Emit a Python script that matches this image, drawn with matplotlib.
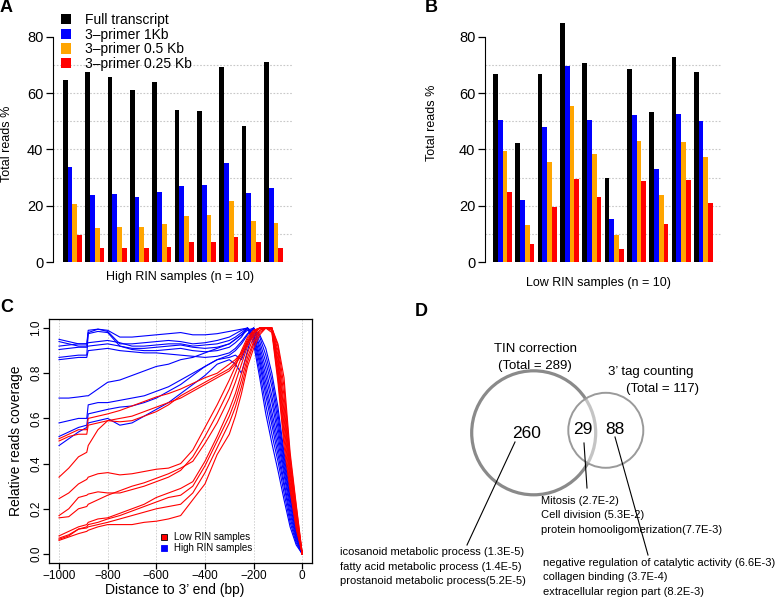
import matplotlib.pyplot as plt
from matplotlib.patches import Circle, Patch
from matplotlib.lines import Line2D

plt.rcParams['font.family'] = ['Liberation Sans', 'DejaVu Sans']

# ---- panels A / B : total reads % per sample
series_names = ['Full transcript', '3\u2013primer 1Kb', '3\u2013primer 0.5 Kb', '3\u2013primer 0.25 Kb']
series_colors = ['black', '#0000ff', '#ffa500', '#ff0000']

high_full = [64.5, 67.5, 65.8, 61.0, 63.9, 53.9, 53.7, 69.2, 48.3, 71.1]
high_1kb = [33.8, 23.8, 24.2, 23.1, 25.1, 27.0, 27.4, 35.2, 24.4, 26.2]
high_05kb = [20.7, 12.0, 12.4, 12.4, 13.6, 16.4, 16.7, 21.9, 14.8, 13.9]
high_025kb = [9.7, 4.9, 4.9, 5.2, 5.6, 7.3, 7.3, 8.8, 7.1, 5.2]

low_full = [66.8, 42.3, 66.8, 84.8, 70.5, 29.8, 68.5, 53.3, 72.7, 67.5]
low_1kb = [50.3, 22.1, 48.0, 69.5, 50.5, 15.4, 52.2, 33.1, 52.6, 50.0]
low_05kb = [39.6, 13.4, 35.6, 55.4, 38.4, 9.6, 43.0, 23.8, 42.7, 37.2]
low_025kb = [24.9, 6.4, 19.6, 29.4, 23.2, 4.8, 28.7, 13.6, 29.1, 20.9]

# ---- panel C : relative coverage vs distance to 3' end
dist = [-1000, -960, -920, -886, -880, -840, -800, -750, -700, -650, -600, -550, -500,
        -450, -400, -350, -300, -275, -250, -225, -200, -175, -150, -125, -100, -75, -50, -25, 0]

high_rin_cov = [
    [0.95, 0.94, 0.93, 0.93, 0.99, 0.995, 0.99, 0.96, 0.96, 0.965, 0.97, 0.975, 0.98, 0.97, 0.97,
     0.975, 0.985, 0.99, 0.995, 1.0, 0.93, 0.78, 0.62, 0.49, 0.37, 0.24, 0.12, 0.04, 0.0],
    [0.94, 0.93, 0.92, 0.92, 0.98, 0.995, 0.985, 0.93, 0.93, 0.935, 0.94, 0.945, 0.94, 0.93, 0.935,
     0.945, 0.96, 0.975, 0.99, 1.0, 0.95, 0.81, 0.66, 0.53, 0.41, 0.27, 0.14, 0.05, 0.0],
    [0.92, 0.925, 0.93, 0.93, 0.935, 0.94, 0.945, 0.935, 0.92, 0.92, 0.925, 0.93, 0.93, 0.92, 0.925,
     0.93, 0.945, 0.96, 0.98, 1.0, 0.96, 0.84, 0.70, 0.57, 0.44, 0.30, 0.16, 0.06, 0.0],
    [0.905, 0.91, 0.915, 0.915, 0.92, 0.925, 0.93, 0.92, 0.91, 0.91, 0.915, 0.92, 0.925, 0.915, 0.91,
     0.915, 0.93, 0.95, 0.97, 1.0, 0.97, 0.86, 0.73, 0.60, 0.47, 0.32, 0.18, 0.07, 0.0],
    [0.87, 0.875, 0.88, 0.88, 0.975, 0.985, 0.98, 0.92, 0.905, 0.9, 0.9, 0.905, 0.91, 0.9, 0.895,
     0.9, 0.915, 0.935, 0.96, 1.0, 0.98, 0.88, 0.76, 0.63, 0.50, 0.35, 0.20, 0.08, 0.0],
    [0.86, 0.865, 0.87, 0.87, 0.9, 0.905, 0.91, 0.9, 0.895, 0.89, 0.89, 0.885, 0.88, 0.875, 0.87,
     0.875, 0.89, 0.91, 0.94, 0.975, 1.0, 0.90, 0.79, 0.67, 0.53, 0.37, 0.22, 0.09, 0.0],
    [0.69, 0.69, 0.695, 0.70, 0.70, 0.73, 0.76, 0.77, 0.79, 0.81, 0.83, 0.84, 0.86, 0.87, 0.89,
     0.91, 0.93, 0.95, 0.97, 0.99, 1.0, 0.92, 0.82, 0.70, 0.56, 0.39, 0.24, 0.10, 0.0],
    [0.58, 0.59, 0.60, 0.60, 0.66, 0.67, 0.67, 0.68, 0.69, 0.70, 0.72, 0.74, 0.77, 0.80, 0.83,
     0.86, 0.88, 0.90, 0.93, 0.97, 1.0, 0.94, 0.85, 0.74, 0.59, 0.41, 0.25, 0.11, 0.0],
    [0.52, 0.54, 0.56, 0.57, 0.62, 0.63, 0.64, 0.65, 0.655, 0.67, 0.69, 0.72, 0.75, 0.79, 0.83,
     0.86, 0.87, 0.88, 0.86, 0.93, 1.0, 0.96, 0.88, 0.77, 0.62, 0.43, 0.27, 0.12, 0.0],
    [0.48, 0.51, 0.54, 0.56, 0.58, 0.59, 0.60, 0.57, 0.58, 0.61, 0.64, 0.67, 0.71, 0.75, 0.79,
     0.84, 0.86, 0.84, 0.80, 0.90, 1.0, 0.97, 0.91, 0.80, 0.65, 0.45, 0.29, 0.13, 0.0],
]

low_rin_cov = [
    [0.51, 0.53, 0.55, 0.55, 0.60, 0.61, 0.62, 0.635, 0.655, 0.675, 0.695, 0.71, 0.73, 0.755, 0.78,
     0.80, 0.84, 0.86, 0.89, 0.95, 0.99, 1.0, 1.0, 0.98, 0.76, 0.48, 0.28, 0.11, 0.0],
    [0.50, 0.52, 0.53, 0.53, 0.57, 0.58, 0.59, 0.585, 0.59, 0.61, 0.63, 0.66, 0.70, 0.73, 0.76,
     0.79, 0.82, 0.85, 0.89, 0.94, 0.98, 1.0, 1.0, 0.99, 0.78, 0.51, 0.30, 0.13, 0.0],
    [0.34, 0.38, 0.43, 0.45, 0.48, 0.55, 0.59, 0.60, 0.61, 0.63, 0.65, 0.67, 0.69, 0.72, 0.75,
     0.78, 0.81, 0.84, 0.88, 0.93, 0.98, 1.0, 1.0, 0.99, 0.80, 0.54, 0.32, 0.14, 0.0],
    [0.245, 0.27, 0.31, 0.33, 0.34, 0.355, 0.36, 0.35, 0.355, 0.365, 0.375, 0.38, 0.40, 0.46, 0.56,
     0.66, 0.77, 0.83, 0.90, 0.96, 0.99, 1.0, 1.0, 1.0, 0.82, 0.57, 0.34, 0.15, 0.0],
    [0.17, 0.20, 0.25, 0.26, 0.265, 0.275, 0.27, 0.27, 0.285, 0.30, 0.32, 0.34, 0.37, 0.43, 0.52,
     0.62, 0.73, 0.80, 0.87, 0.94, 0.98, 1.0, 1.0, 1.0, 0.84, 0.60, 0.36, 0.16, 0.0],
    [0.16, 0.165, 0.20, 0.21, 0.22, 0.24, 0.26, 0.28, 0.30, 0.315, 0.335, 0.355, 0.38, 0.41, 0.49,
     0.58, 0.69, 0.76, 0.84, 0.92, 0.97, 1.0, 1.0, 1.0, 0.86, 0.63, 0.37, 0.17, 0.0],
    [0.08, 0.10, 0.12, 0.13, 0.14, 0.155, 0.16, 0.18, 0.20, 0.22, 0.25, 0.27, 0.29, 0.32, 0.41,
     0.52, 0.64, 0.71, 0.80, 0.89, 0.96, 0.99, 1.0, 1.0, 0.88, 0.66, 0.39, 0.18, 0.0],
    [0.07, 0.085, 0.11, 0.12, 0.13, 0.14, 0.155, 0.17, 0.19, 0.21, 0.23, 0.25, 0.26, 0.30, 0.39,
     0.50, 0.61, 0.68, 0.77, 0.87, 0.94, 0.99, 1.0, 1.0, 0.90, 0.70, 0.41, 0.19, 0.0],
    [0.065, 0.08, 0.11, 0.115, 0.12, 0.13, 0.14, 0.155, 0.17, 0.185, 0.20, 0.21, 0.22, 0.27, 0.36,
     0.47, 0.58, 0.65, 0.74, 0.85, 0.93, 0.98, 1.0, 1.0, 0.92, 0.74, 0.43, 0.21, 0.0],
    [0.06, 0.075, 0.09, 0.10, 0.105, 0.12, 0.13, 0.13, 0.13, 0.14, 0.145, 0.155, 0.17, 0.24, 0.31,
     0.44, 0.53, 0.61, 0.71, 0.83, 0.91, 0.97, 1.0, 1.0, 0.93, 0.78, 0.45, 0.22, 0.0],
]

# ---- panel D : venn counts and GO terms
tin_total, tag_total = 289, 117
only_tin, shared, only_tag = 260, 29, 88
go_tin = ['icosanoid metabolic process (1.3E-5)', 'fatty acid metabolic process (1.4E-5)',
          'prostanoid metabolic process(5.2E-5)']
go_shared = ['Mitosis (2.7E-2)', 'Cell division (5.3E-2)', 'protein homooligomerization(7.7E-3)']
go_tag = ['negative regulation of catalytic activity (6.6E-3)', 'collagen binding (3.7E-4)',
          'extracellular region part (8.2E-3)']

W, H = 778, 603
fig = plt.figure(figsize=(W / 100, H / 100), dpi=100)


def px(x, y):
    # pixel position -> figure fraction
    return x / W, 1 - y / H


def bar_panel(rect, groups, xlim):
    ax = fig.add_axes(rect)
    pitch = 4.7
    for k, vals in enumerate(groups):
        xs = [i * pitch + k for i in range(len(vals))]
        ax.bar(xs, vals, width=1.0, align='edge', color=series_colors[k],
               label=series_names[k], zorder=2, linewidth=0)
    for g in range(0, 80, 10):
        ax.axhline(g, color='#c8c8c8', lw=0.8, ls=(0, (1.5, 1.5)), zorder=1)
    ax.set_xlim(*xlim)
    ax.set_ylim(0, 88)
    ax.set_yticks([0, 20, 40, 60, 80])
    for s in ['top', 'right', 'bottom']:
        ax.spines[s].set_visible(False)
    ax.spines['left'].set_bounds(0, 80)
    ax.set_xticks([])
    ax.tick_params(axis='y', length=5, width=0.9, labelsize=10.5, pad=2)
    return ax


axA = bar_panel([53 / W, 1 - 262.3 / H, 240 / W, 248.2 / H],
                [high_full, high_1kb, high_05kb, high_025kb], (-2.1, 48.4))
axB = bar_panel([485 / W, 1 - 262.3 / H, 237 / W, 248.2 / H],
                [low_full, low_1kb, low_05kb, low_025kb], (-1.7, 48.2))

handles = [Patch(facecolor=c, edgecolor='none') for c in series_colors]
axA.legend(handles, series_names, loc='upper left', bbox_to_anchor=px(61, 13),
           bbox_transform=fig.transFigure, frameon=False, fontsize=10,
           handlelength=0.75, handleheight=0.75, handletextpad=1.0,
           labelspacing=0.05, borderpad=0, borderaxespad=0)

fig.text(*px(180, 277), 'High RIN samples (n = 10)', ha='center', va='center', fontsize=9)
fig.text(*px(598, 283), 'Low RIN samples (n = 10)', ha='center', va='center', fontsize=9)
fig.text(*px(7, 144), 'Total reads %', ha='center', va='center', rotation=90, fontsize=9)
fig.text(*px(432, 123), 'Total reads %', ha='center', va='center', rotation=90, fontsize=9)

# panel C
axC = fig.add_axes([49.3 / W, 1 - 563 / H, 262.7 / W, 244 / H])
for ys in high_rin_cov:
    axC.plot(dist, ys, color='#0000ff', lw=0.8)
for ys in low_rin_cov:
    axC.plot(dist, ys, color='#ff0000', lw=0.8)
axC.set_xlim(-1040, 40)
axC.set_ylim(-0.04, 1.04)
axC.set_xticks([-1000, -800, -600, -400, -200, 0])
axC.set_yticks([0, 0.2, 0.4, 0.6, 0.8, 1.0])
axC.set_yticklabels(['0.0', '0.2', '0.4', '0.6', '0.8', '1.0'], rotation=90, va='center')
for xv in [-1000, -800, -600, -400, -200, 0]:
    axC.axvline(xv, color='#d0d0d0', lw=0.7, ls=(0, (1.5, 1.5)), zorder=0)
axC.tick_params(length=4, width=0.9, labelsize=8.5, pad=1)
for s in axC.spines.values():
    s.set_linewidth(0.9)
axC.set_xlabel("Distance to 3\u2019 end (bp)", fontsize=10)
axC.xaxis.set_label_coords(0.478, -0.083)
axC.set_ylabel('Relative reads coverage', fontsize=10)
axC.yaxis.set_label_coords(-0.1, 0.5)
leg_handles = [Line2D([], [], ls='none', marker='s', markersize=5, markerfacecolor='#ff0000',
                      markeredgecolor='black', markeredgewidth=0.6),
               Line2D([], [], ls='none', marker='s', markersize=5, markerfacecolor='#0000ff',
                      markeredgecolor='#0000ff', markeredgewidth=0.6)]
axC.legend(leg_handles, ['Low RIN samples', 'High RIN samples'], loc='upper left',
           bbox_to_anchor=px(160, 532), bbox_transform=fig.transFigure, frameon=False,
           fontsize=7, handlelength=0.8, handletextpad=0.6, labelspacing=0.15,
           borderpad=0, borderaxespad=0)

# panel D (pixel coordinates)
axD = fig.add_axes([330 / W, 0, 448 / W, 313 / H])
axD.set_xlim(330, 778)
axD.set_ylim(603, 290)
axD.axis('off')
axD.add_patch(Circle((533.7, 432.8), 62, fill=False, edgecolor='#8a8a8a', lw=2.3))
axD.add_patch(Circle((605.8, 430.3), 37.5, facecolor='white', edgecolor='none', alpha=0.5))
axD.add_patch(Circle((605.8, 430.3), 37.5, fill=False, edgecolor='#9a9a9a', lw=1.4))

axD.text(536, 349, 'TIN correction', ha='center', va='center', fontsize=9.5)
axD.text(535, 366, '(Total = %d)' % tin_total, ha='center', va='center', fontsize=9.5)
axD.text(651, 372, '3\u2019 tag counting', ha='center', va='center', fontsize=9.5)
axD.text(663, 389, '(Total = %d)' % tag_total, ha='center', va='center', fontsize=9.5)
axD.text(527, 433, str(only_tin), ha='center', va='center', fontsize=12.5)
axD.text(583, 430, str(shared), ha='center', va='center', fontsize=12.5)
axD.text(615, 430, str(only_tag), ha='center', va='center', fontsize=12.5)

axD.plot([515, 467], [442, 545], color='black', lw=0.8)
axD.plot([584, 587], [443, 488], color='black', lw=0.8)
axD.plot([615, 648], [437, 555], color='black', lw=0.8)

for i, t in enumerate(go_tin):
    axD.text(340, 552 + i * 14.5, t, ha='left', va='center', fontsize=8)
for i, t in enumerate(go_shared):
    axD.text(541, 501 + i * 14.5, t, ha='left', va='center', fontsize=8)
for i, t in enumerate(go_tag):
    axD.text(543, 563 + i * 14.5, t, ha='left', va='center', fontsize=8)

# panel letters
for letter, (x, y) in zip('ABCD', [(6.5, 8), (431, 8), (6.5, 308), (421, 311)]):
    fig.text(*px(x, y), letter, ha='center', va='center', fontsize=13, fontweight='bold')

fig.savefig('out.png', dpi=100)
